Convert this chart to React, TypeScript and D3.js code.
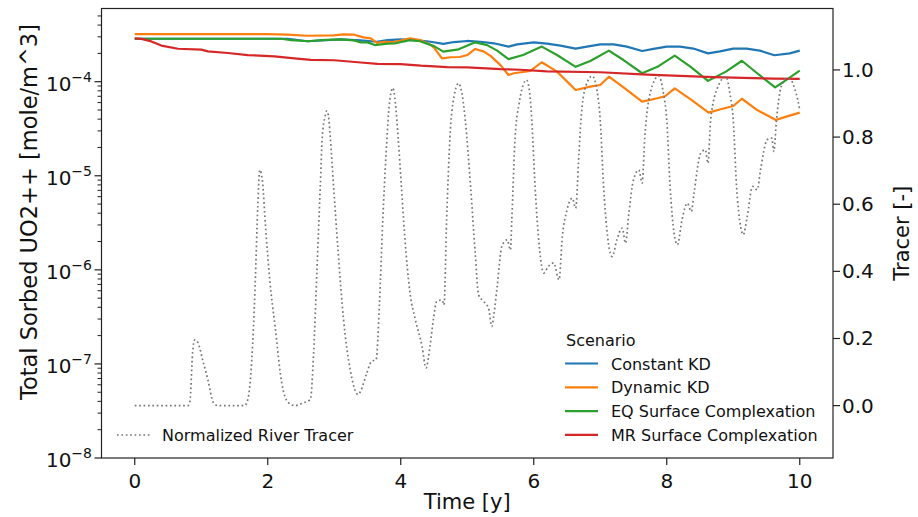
import React from "react";
import * as d3 from "d3";

// ---------- data ----------
const timeKD = [0, 2.3, 2.6, 3.09, 3.4, 3.64, 3.8, 4.0, 4.29, 4.45, 4.64, 4.8, 5.0, 5.2, 5.4, 5.62, 5.75, 6.0, 6.2, 6.4, 6.63, 6.8, 7.0, 7.2, 7.4, 7.63, 7.8, 8.0, 8.2, 8.4, 8.62, 8.8, 9.0, 9.2, 9.4, 9.62, 9.85, 10.0];
const constantKD = [2.86e-4, 2.86e-4, 2.69e-4, 2.82e-4, 2.75e-4, 2.66e-4, 2.77e-4, 2.82e-4, 2.73e-4, 2.66e-4, 2.52e-4, 2.64e-4, 2.71e-4, 2.66e-4, 2.56e-4, 2.36e-4, 2.49e-4, 2.62e-4, 2.54e-4, 2.42e-4, 2.25e-4, 2.36e-4, 2.49e-4, 2.49e-4, 2.36e-4, 2.12e-4, 2.23e-4, 2.36e-4, 2.36e-4, 2.25e-4, 2.0e-4, 2.1e-4, 2.25e-4, 2.25e-4, 2.14e-4, 1.91e-4, 2.0e-4, 2.14e-4];

const timeDyn = [0, 2.0, 2.3, 2.6, 3.0, 3.13, 3.3, 3.44, 3.55, 3.64, 3.75, 3.9, 4.14, 4.29, 4.44, 4.5, 4.62, 4.75, 4.89, 5.0, 5.12, 5.25, 5.35, 5.5, 5.62, 5.7, 5.95, 6.12, 6.35, 6.63, 6.85, 7.0, 7.13, 7.35, 7.63, 7.86, 7.98, 8.12, 8.36, 8.63, 8.81, 9.0, 9.13, 9.36, 9.64, 9.76, 10.0];
const dynamicKD = [3.21e-4, 3.21e-4, 3.16e-4, 3.08e-4, 3.11e-4, 3.19e-4, 3.16e-4, 2.96e-4, 2.89e-4, 2.59e-4, 2.66e-4, 2.64e-4, 2.89e-4, 2.77e-4, 2.49e-4, 2.3e-4, 1.77e-4, 1.82e-4, 1.83e-4, 1.92e-4, 2.23e-4, 2.09e-4, 1.88e-4, 1.5e-4, 1.18e-4, 1.23e-4, 1.3e-4, 1.61e-4, 1.28e-4, 8.16e-5, 8.85e-5, 9.23e-5, 1.13e-4, 8.71e-5, 6.13e-5, 6.67e-5, 7.05e-5, 8.51e-5, 6.5e-5, 4.69e-5, 5.09e-5, 5.52e-5, 6.59e-5, 5.0e-5, 3.92e-5, 4.18e-5, 4.69e-5];

const timeEQ = [0, 2.2, 2.35, 2.61, 2.8, 3.09, 3.3, 3.4, 3.5, 3.61, 3.8, 3.92, 4.14, 4.29, 4.5, 4.64, 4.87, 5.12, 5.3, 5.45, 5.62, 5.84, 6.12, 6.35, 6.63, 6.85, 7.13, 7.35, 7.63, 7.86, 8.12, 8.36, 8.62, 8.89, 9.13, 9.36, 9.63, 9.76, 10.0];
const eqSurface = [2.86e-4, 2.86e-4, 2.77e-4, 2.69e-4, 2.77e-4, 2.82e-4, 2.75e-4, 2.62e-4, 2.62e-4, 2.45e-4, 2.54e-4, 2.56e-4, 2.77e-4, 2.69e-4, 2.39e-4, 2.09e-4, 2.21e-4, 2.62e-4, 2.45e-4, 2.14e-4, 1.74e-4, 1.92e-4, 2.36e-4, 1.92e-4, 1.44e-4, 1.66e-4, 2.14e-4, 1.7e-4, 1.23e-4, 1.44e-4, 1.89e-4, 1.44e-4, 1.02e-4, 1.28e-4, 1.67e-4, 1.23e-4, 8.71e-5, 1.0e-4, 1.31e-4];

const timeMR = [0, 0.1, 0.25, 0.4, 0.65, 1.0, 1.1, 1.4, 1.7, 2.1, 2.4, 2.65, 3.0, 3.4, 3.65, 4.0, 4.3, 4.7, 5.0, 5.5, 5.8, 6.2, 7.0, 7.7, 8.7, 9.6, 10.0];
const mrSurface = [2.89e-4, 2.85e-4, 2.68e-4, 2.42e-4, 2.24e-4, 2.19e-4, 2.1e-4, 2.02e-4, 1.92e-4, 1.86e-4, 1.77e-4, 1.71e-4, 1.69e-4, 1.6e-4, 1.55e-4, 1.54e-4, 1.48e-4, 1.43e-4, 1.42e-4, 1.36e-4, 1.34e-4, 1.29e-4, 1.26e-4, 1.19e-4, 1.12e-4, 1.08e-4, 1.07e-4];

const tracerTime = [0.0, 0.8, 0.83, 0.87, 0.9, 0.95, 1.02, 1.1, 1.18, 1.25, 1.65, 1.7, 1.76, 1.81, 1.85, 1.88, 1.92, 1.97, 2.03, 2.11, 2.21, 2.31, 2.41, 2.53, 2.64, 2.69, 2.74, 2.79, 2.82, 2.86, 2.89, 2.92, 2.94, 2.99, 3.06, 3.14, 3.24, 3.36, 3.4, 3.49, 3.56, 3.63, 3.68, 3.73, 3.78, 3.83, 3.88, 3.92, 3.96, 4.01, 4.06, 4.14, 4.22, 4.32, 4.38, 4.44, 4.49, 4.54, 4.62, 4.65, 4.69, 4.74, 4.8, 4.87, 4.92, 4.97, 5.05, 5.12, 5.17, 5.25, 5.32, 5.37, 5.4, 5.45, 5.52, 5.6, 5.65, 5.67, 5.72, 5.78, 5.84, 5.89, 5.94, 5.97, 6.02, 6.07, 6.15, 6.22, 6.3, 6.38, 6.43, 6.5, 6.58, 6.63, 6.68, 6.71, 6.78, 6.88, 6.95, 7.0, 7.05, 7.1, 7.15, 7.18, 7.25, 7.33, 7.38, 7.43, 7.5, 7.58, 7.63, 7.67, 7.75, 7.88, 7.95, 8.0, 8.05, 8.11, 8.16, 8.23, 8.31, 8.37, 8.41, 8.51, 8.58, 8.62, 8.66, 8.77, 8.89, 8.95, 9.0, 9.05, 9.11, 9.15, 9.21, 9.29, 9.36, 9.41, 9.51, 9.58, 9.61, 9.65, 9.72, 9.8, 9.86, 9.93, 9.97, 10.0];
const tracerValue = [0, 0, 0.013, 0.157, 0.196, 0.188, 0.137, 0.077, 0.01, 0, 0, 0.018, 0.137, 0.355, 0.593, 0.702, 0.668, 0.524, 0.375, 0.236, 0.068, 0.009, 0.0, 0.008, 0.018, 0.157, 0.405, 0.653, 0.8, 0.86, 0.878, 0.85, 0.8, 0.653, 0.454, 0.256, 0.107, 0.033, 0.045, 0.097, 0.132, 0.137, 0.306, 0.554, 0.753, 0.9, 0.946, 0.9, 0.8, 0.653, 0.504, 0.335, 0.256, 0.177, 0.112, 0.177, 0.256, 0.31, 0.315, 0.3, 0.554, 0.8, 0.92, 0.96, 0.93, 0.851, 0.653, 0.454, 0.33, 0.31, 0.29, 0.236, 0.27, 0.355, 0.474, 0.494, 0.464, 0.554, 0.8, 0.9, 0.955, 0.97, 0.93, 0.851, 0.653, 0.504, 0.395, 0.415, 0.425, 0.375, 0.504, 0.583, 0.618, 0.588, 0.752, 0.851, 0.95, 0.982, 0.94, 0.851, 0.653, 0.524, 0.454, 0.444, 0.494, 0.529, 0.484, 0.573, 0.673, 0.702, 0.663, 0.8, 0.93, 0.982, 0.93, 0.851, 0.653, 0.514, 0.479, 0.554, 0.603, 0.578, 0.633, 0.752, 0.762, 0.722, 0.851, 0.95, 0.98, 0.93, 0.851, 0.653, 0.534, 0.509, 0.563, 0.653, 0.643, 0.702, 0.792, 0.797, 0.757, 0.851, 0.95, 0.975, 0.972, 0.94, 0.911, 0.88];

const xTicks = [0, 2, 4, 6, 8, 10];
const leftMajorExp = [-8, -7, -6, -5, -4];
const rightTicks = [0.0, 0.2, 0.4, 0.6, 0.8, 1.0];

const seriesNames = ["Constant KD", "Dynamic KD", "EQ Surface Complexation", "MR Surface Complexation"];
const seriesColors = ["#1f77b4", "#ff7f0e", "#2ca02c", "#d62728"];
const seriesTimes = [timeKD, timeDyn, timeEQ, timeMR];
const seriesValues = [constantKD, dynamicKD, eqSurface, mrSurface];

// ---------- layout ----------
const W = 918, H = 517;
const L = 101.5, R = 833, T = 8.5, B = 458;
const FONT = "DejaVu Sans";

export default function App() {
  const x = d3.scaleLinear().domain([-0.5, 10.5]).range([L, R]);
  const yL = d3.scaleLog().domain([1e-8, 6.0e-4]).range([B, T]);
  const yR = d3.scaleLinear().domain([-0.156, 1.183]).range([B, T]);

  const minor: number[] = [];
  leftMajorExp.forEach((e) => {
    for (let m = 2; m <= 9; m++) {
      const v = m * Math.pow(10, e);
      if (v <= yL.domain()[1]) minor.push(v);
    }
  });

  const lineL = (ts: number[]) =>
    d3.line<number>().x((_, i) => x(ts[i])).y((d) => yL(d));
  const tracerLine = d3
    .line<number>()
    .x((_, i) => x(tracerTime[i]))
    .y((d) => yR(d))
    .curve(d3.curveMonotoneX);

  return (
    <svg width={W} height={H} style={{ position: "absolute", left: 0, top: 0, background: "#fff" }} fontFamily={FONT}>
      <rect x={0} y={0} width={W} height={H} fill="#fff" />
      <defs>
        <clipPath id="plotclip">
          <rect x={L} y={T} width={R - L} height={B - T} />
        </clipPath>
      </defs>
      <g clipPath="url(#plotclip)">
        {seriesValues.map((vals, k) => (
          <path key={k} d={lineL(seriesTimes[k])(vals) || ""} fill="none" stroke={seriesColors[k]} strokeWidth={2.2} strokeLinejoin="round" />
        ))}
        <path d={tracerLine(tracerValue) || ""} fill="none" stroke="#777" strokeWidth={1.7} strokeDasharray="1.7,2.7" />
      </g>

      {/* frame */}
      <rect x={L} y={T} width={R - L} height={B - T} fill="none" stroke="#222" strokeWidth={1.2} />

      {/* x axis */}
      {xTicks.map((t) => (
        <g key={t}>
          <line x1={x(t)} x2={x(t)} y1={B} y2={B + 7} stroke="#222" strokeWidth={1.2} />
          <text x={x(t)} y={B + 30} textAnchor="middle" fontSize={20} fill="#111">{t}</text>
        </g>
      ))}
      <text x={(L + R) / 2} y={509} textAnchor="middle" fontSize={21} fill="#111">Time [y]</text>

      {/* left log axis */}
      {minor.map((v, i) => (
        <line key={i} x1={L - 4} x2={L} y1={yL(v)} y2={yL(v)} stroke="#222" strokeWidth={1} />
      ))}
      {leftMajorExp.map((e) => {
        const yy = yL(Math.pow(10, e));
        return (
          <g key={e}>
            <line x1={L - 7} x2={L} y1={yy} y2={yy} stroke="#222" strokeWidth={1.2} />
            <text x={92} y={yy + 9} textAnchor="end" fontSize={20} fill="#111">
              10<tspan dy={-9} fontSize={14}>{"\u2212" + Math.abs(e)}</tspan>
            </text>
          </g>
        );
      })}
      <text transform={`translate(37, 212) rotate(-90)`} textAnchor="middle" fontSize={22.5} fill="#111">
        Total Sorbed UO2++ [mole/m^3]
      </text>

      {/* right axis */}
      {rightTicks.map((v) => (
        <g key={v}>
          <line x1={R} x2={R + 7} y1={yR(v)} y2={yR(v)} stroke="#222" strokeWidth={1.2} />
          <text x={R + 9} y={yR(v) + 7} textAnchor="start" fontSize={20} fill="#111">{v.toFixed(1)}</text>
        </g>
      ))}
      <text transform={`translate(909, ${(T + B) / 2}) rotate(-90)`} textAnchor="middle" fontSize={21} fill="#111">
        Tracer [-]
      </text>

      {/* scenario legend */}
      <text x={566} y={346} fontSize={16} fill="#111">Scenario</text>
      {seriesNames.map((n, k) => {
        const yy = 363.5 + k * 23.8;
        return (
          <g key={n}>
            <line x1={565} x2={598} y1={yy} y2={yy} stroke={seriesColors[k]} strokeWidth={2.2} />
            <text x={611} y={yy + 6} fontSize={16} fill="#111">{n}</text>
          </g>
        );
      })}

      {/* tracer legend */}
      <line x1={117} x2={150} y1={435} y2={435} stroke="#777" strokeWidth={1.7} strokeDasharray="1.7,2.7" />
      <text x={162} y={441} fontSize={16} fill="#111">Normalized River Tracer</text>
    </svg>
  );
}
